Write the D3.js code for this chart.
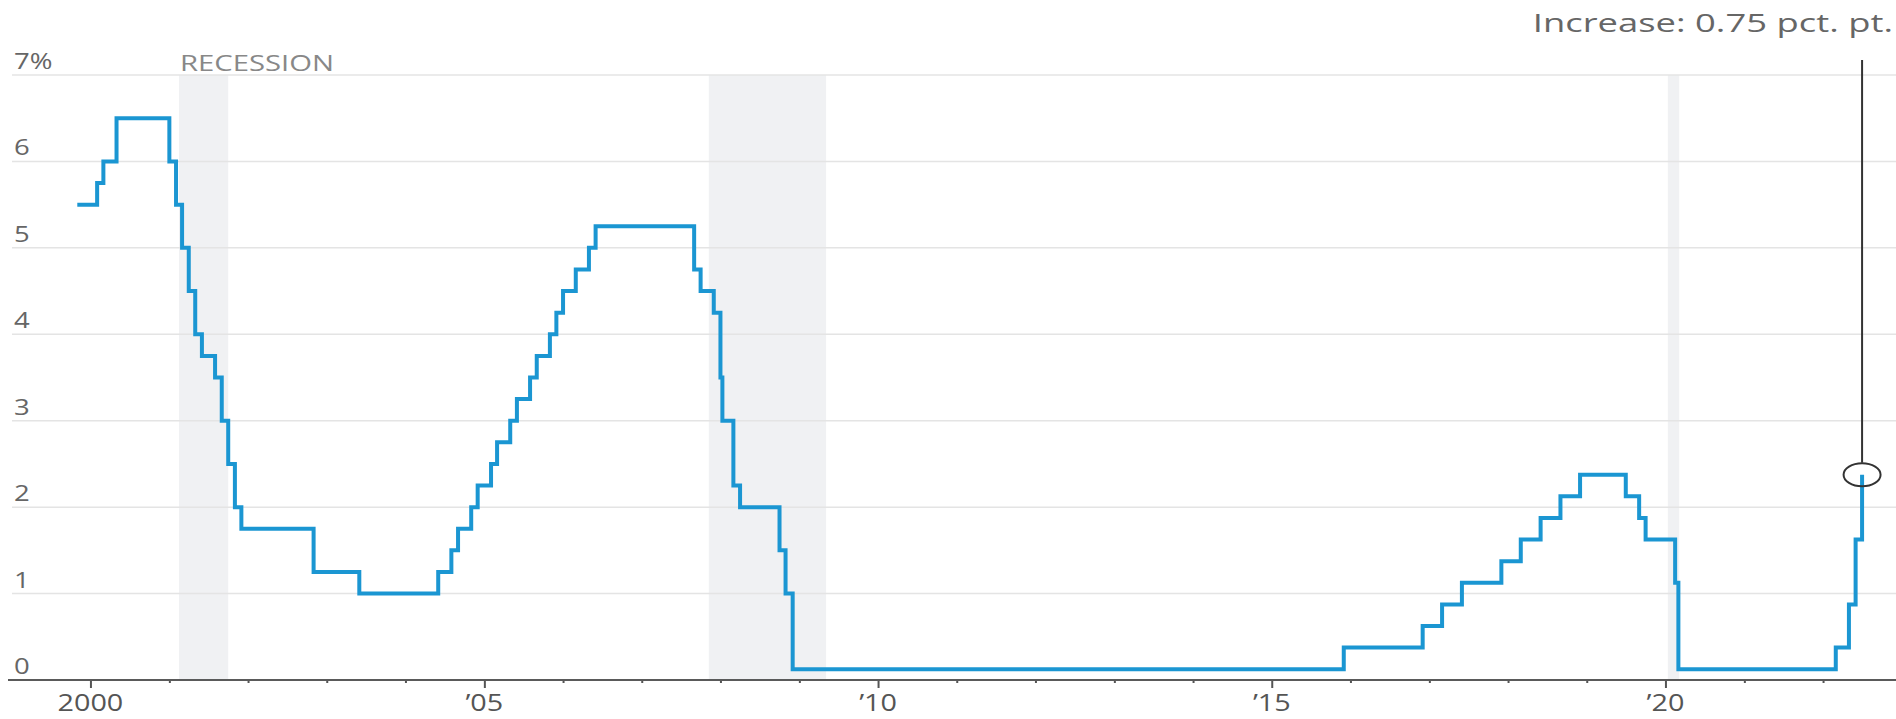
<!DOCTYPE html>
<html>
<head>
<meta charset="utf-8">
<script src="https://cdn.jsdelivr.net/npm/d3@7"></script>
<style>
  html, body { margin: 0; padding: 0; background: #fff; }
  svg { display: block; font-family: "Open Sans", sans-serif; }
</style>
</head>
<body>
<svg id="chart" width="1896" height="719"></svg>
<script>
// month the target rate changed, and the rate (midpoint of the range after 2008)
const changeDates = [
  '1999-11-01', '2000-02-01', '2000-03-01', '2000-05-01',
  '2001-01-01', '2001-02-01', '2001-03-01', '2001-04-01', '2001-05-01', '2001-06-01',
  '2001-08-01', '2001-09-01', '2001-10-01', '2001-11-01', '2001-12-01',
  '2002-11-01', '2003-06-01',
  '2004-06-01', '2004-08-01', '2004-09-01', '2004-11-01', '2004-12-01',
  '2005-02-01', '2005-03-01', '2005-05-01', '2005-06-01', '2005-08-01', '2005-09-01',
  '2005-11-01', '2005-12-01',
  '2006-01-01', '2006-03-01', '2006-05-01', '2006-06-01',
  '2007-09-01', '2007-10-01', '2007-12-01',
  '2008-01-01', '2008-01-10', '2008-03-01', '2008-04-01', '2008-10-01', '2008-10-29', '2008-12-01',
  '2015-12-01', '2016-12-01',
  '2017-03-01', '2017-06-01', '2017-12-01',
  '2018-03-01', '2018-06-01', '2018-09-01', '2018-12-01',
  '2019-07-01', '2019-09-01', '2019-10-01',
  '2020-02-15', '2020-03-01',
  '2022-03-01', '2022-05-01', '2022-06-01', '2022-07-01'
];
const rateValues = [
  5.5, 5.75, 6.0, 6.5,
  6.0, 5.5, 5.0, 4.5, 4.0, 3.75,
  3.5, 3.0, 2.5, 2.0, 1.75,
  1.25, 1.0,
  1.25, 1.5, 1.75, 2.0, 2.25,
  2.5, 2.75, 3.0, 3.25, 3.5, 3.75,
  4.0, 4.25,
  4.5, 4.75, 5.0, 5.25,
  4.75, 4.5, 4.25,
  3.5, 3.0, 2.25, 2.0, 1.5, 1.0, 0.125,
  0.375, 0.625,
  0.875, 1.125, 1.375,
  1.625, 1.875, 2.125, 2.375,
  2.125, 1.875, 1.625,
  1.125, 0.125,
  0.375, 0.875, 1.625, 2.375
];

// shaded recession periods
const recessionStarts = ['2001-02-15', '2007-11-08', '2020-01-12'];
const recessionEnds   = ['2001-10-01', '2009-05-05', '2020-03-05'];

// axis ticks
const yTicks = [0, 1, 2, 3, 4, 5, 6, 7];
const yTickLabels = ['0', '1', '2', '3', '4', '5', '6', '7%'];
const xMajorYears = [2000, 2005, 2010, 2015, 2020];
const xTickLabels = ['2000', '\u201905', '\u201910', '\u201915', '\u201920'];

const annotationText = 'Increase: 0.75 pct. pt.';

const parseDate = d3.timeParse('%Y-%m-%d');
const rates = changeDates.map((d, i) => ({ date: parseDate(d), value: rateValues[i] }));

const svg = d3.select('#chart');

const x = d3.scaleTime()
  .domain([new Date(1999, 0, 1), new Date(2023, 0, 1)])
  .range([11.75, 1901.75]);
const y = d3.scaleLinear().domain([0, 7]).range([680, 75]);

// the original text is drawn wide, so stretch it horizontally
function label(g, px, py, txt, anchor, size, color, stretch = 1.25) {
  return g.append('text')
    .attr('transform', `translate(${px},${py}) scale(${stretch},1)`)
    .attr('text-anchor', anchor)
    .attr('font-size', size)
    .attr('fill', color)
    .text(txt);
}

// recession bands
svg.append('g').selectAll('rect')
  .data(recessionStarts)
  .join('rect')
  .attr('x', (d) => x(parseDate(d)))
  .attr('width', (d, i) => x(parseDate(recessionEnds[i])) - x(parseDate(d)))
  .attr('y', y(7))
  .attr('height', y(0) - y(7))
  .attr('fill', '#f0f1f3');

// gridlines
svg.append('g').selectAll('line')
  .data(yTicks.filter((d) => d > 0))
  .join('line')
  .attr('x1', 12).attr('x2', 1896)
  .attr('y1', (d) => y(d)).attr('y2', (d) => y(d))
  .attr('stroke', '#e4e4e4')
  .attr('stroke-width', 1.5);

// y labels sit just above their gridline
const yLab = svg.append('g');
yTicks.forEach((d, i) => label(yLab, 14, y(d) - 6, yTickLabels[i], 'start', 22, '#666'));

label(svg, 180, 71, 'RECESSION', 'start', 22, '#888', 1.33);

// x axis
const minorYears = d3.timeYear.range(new Date(2000, 0, 1), new Date(2023, 0, 1));
const xAxis = d3.axisBottom(x)
  .tickValues(minorYears)
  .tickSize(3)
  .tickFormat('');
const axisG = svg.append('g')
  .attr('transform', `translate(0, ${y(0)})`)
  .call(xAxis);
axisG.select('.domain').remove();
axisG.selectAll('.tick line')
  .attr('stroke', '#555')
  .attr('stroke-width', 2)
  .attr('y2', (d) => xMajorYears.includes(d.getFullYear()) ? 8 : 3);
axisG.append('line')
  .attr('x1', 8).attr('x2', 1896)
  .attr('stroke', '#5a5a5a')
  .attr('stroke-width', 2);

const xLab = svg.append('g');
xMajorYears.forEach((yr, i) => label(xLab, x(new Date(yr, 0, 1)), 711, xTickLabels[i], 'middle', 23, '#555'));

// rate line
const line = d3.line()
  .x((d) => x(d.date))
  .y((d) => y(d.value))
  .curve(d3.curveStepAfter);

svg.append('path')
  .datum(rates)
  .attr('d', line)
  .attr('fill', 'none')
  .attr('stroke', '#1b96d2')
  .attr('stroke-width', 4)
  .attr('stroke-linejoin', 'miter');

// annotation on the latest move
const last = rates[rates.length - 1];
const lx = x(last.date);
const ly = y(last.value);
svg.append('line')
  .attr('x1', lx).attr('x2', lx)
  .attr('y1', 60).attr('y2', ly - 12)
  .attr('stroke', '#333')
  .attr('stroke-width', 2);
svg.append('ellipse')
  .attr('cx', lx).attr('cy', ly)
  .attr('rx', 18.5).attr('ry', 11.5)
  .attr('fill', 'none')
  .attr('stroke', '#333')
  .attr('stroke-width', 2);

label(svg, 1893, 32, annotationText, 'end', 26, '#666', 1.4);
</script>
</body>
</html>
